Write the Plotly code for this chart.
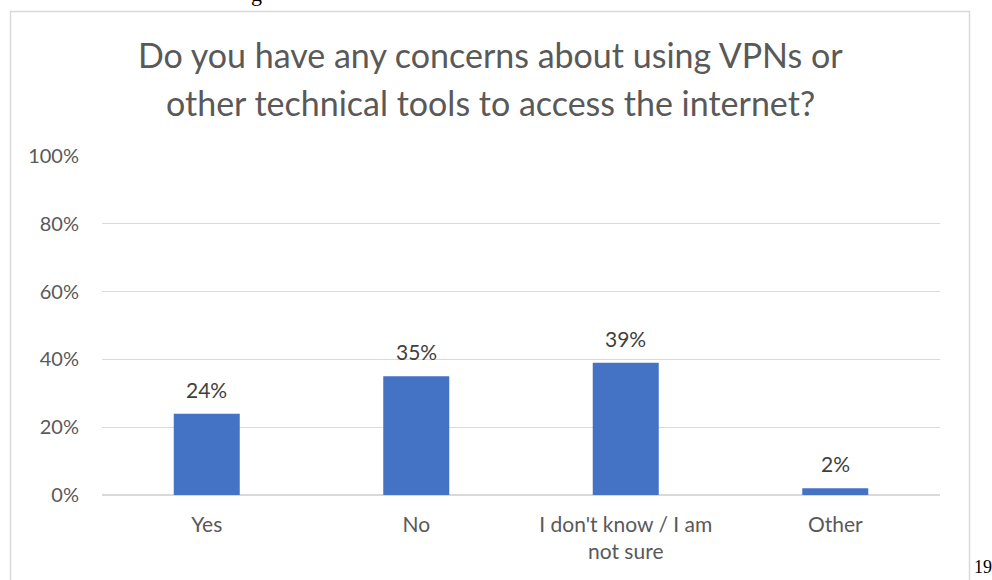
import plotly.graph_objects as go

categories = ["Yes", "No", "I don't know / I am<br>not sure", "Other"]
shares = [24, 35, 39, 2]
y_ticks = [0, 20, 40, 60, 80, 100]
y_tick_labels = ["0%", "20%", "40%", "60%", "80%", "100%"]
title_lines = ["Do you have any concerns about using VPNs or",
               "other technical tools to access the internet?"]

W, H = 992, 580
L, R, T, B = 102, 52, 156, 85
pw, ph = W - L - R, H - T - B


def px_x(x):
    return (x - L) / pw


def px_y(y):
    return (H - B - y) / ph


grey = "#595959"
font_main = "Lato"

fig = go.Figure(
    go.Bar(
        x=categories,
        y=shares,
        marker=dict(color="#4472C4", line=dict(width=0)),
        width=0.315,
        hoverinfo="skip",
    )
)

annotations = []
for c, v in zip(categories, shares):
    annotations.append(dict(
        x=c, y=v, xref="x", yref="y", text=f"{v}%", showarrow=False,
        yanchor="bottom", yshift=10,
        font=dict(family=font_main, size=21, color="#404040"),
    ))

for i, line in enumerate(title_lines):
    annotations.append(dict(
        x=px_x(490), y=px_y(55 + 48 * i), xref="paper", yref="paper",
        text=line, showarrow=False, xanchor="center", yanchor="middle",
        font=dict(family=font_main, size=34, color=grey),
    ))

# page number beside the chart frame
annotations.append(dict(
    x=px_x(972), y=px_y(567), xref="paper", yref="paper", text="19",
    showarrow=False, xanchor="left", yanchor="middle",
    font=dict(family="Liberation Serif", size=18, color="black"),
))
# descender of the line of text above the frame
annotations.append(dict(
    x=px_x(256), y=px_y(-7), xref="paper", yref="paper", text="g",
    showarrow=False, xanchor="center", yanchor="middle",
    font=dict(family="Liberation Serif", size=22, color="black"),
))

fig.update_layout(
    width=W, height=H,
    margin=dict(l=L, r=R, t=T, b=B, pad=0),
    paper_bgcolor="white", plot_bgcolor="white",
    showlegend=False,
    annotations=annotations,
    shapes=[dict(
        type="rect", xref="paper", yref="paper",
        x0=px_x(10.5), x1=px_x(969.5), y0=px_y(620), y1=px_y(11.5),
        line=dict(color="#d9d9d9", width=1.5), fillcolor="rgba(0,0,0,0)",
        layer="below",
    )],
    xaxis=dict(
        showgrid=False, showline=False, zeroline=False, ticks="",
        tickfont=dict(family=font_main, size=21, color=grey),
        ticklabelstandoff=15, fixedrange=True,
    ),
    yaxis=dict(
        range=[0, 100], tickvals=y_ticks, ticktext=y_tick_labels,
        showgrid=True, gridcolor="#d9d9d9", gridwidth=1,
        zeroline=True, zerolinecolor="#d9d9d9", zerolinewidth=1.5,
        showline=False, ticks="",
        tickfont=dict(family=font_main, size=20, color=grey),
        ticklabelstandoff=22, fixedrange=True,
    ),
)

fig.write_html("out.html")
